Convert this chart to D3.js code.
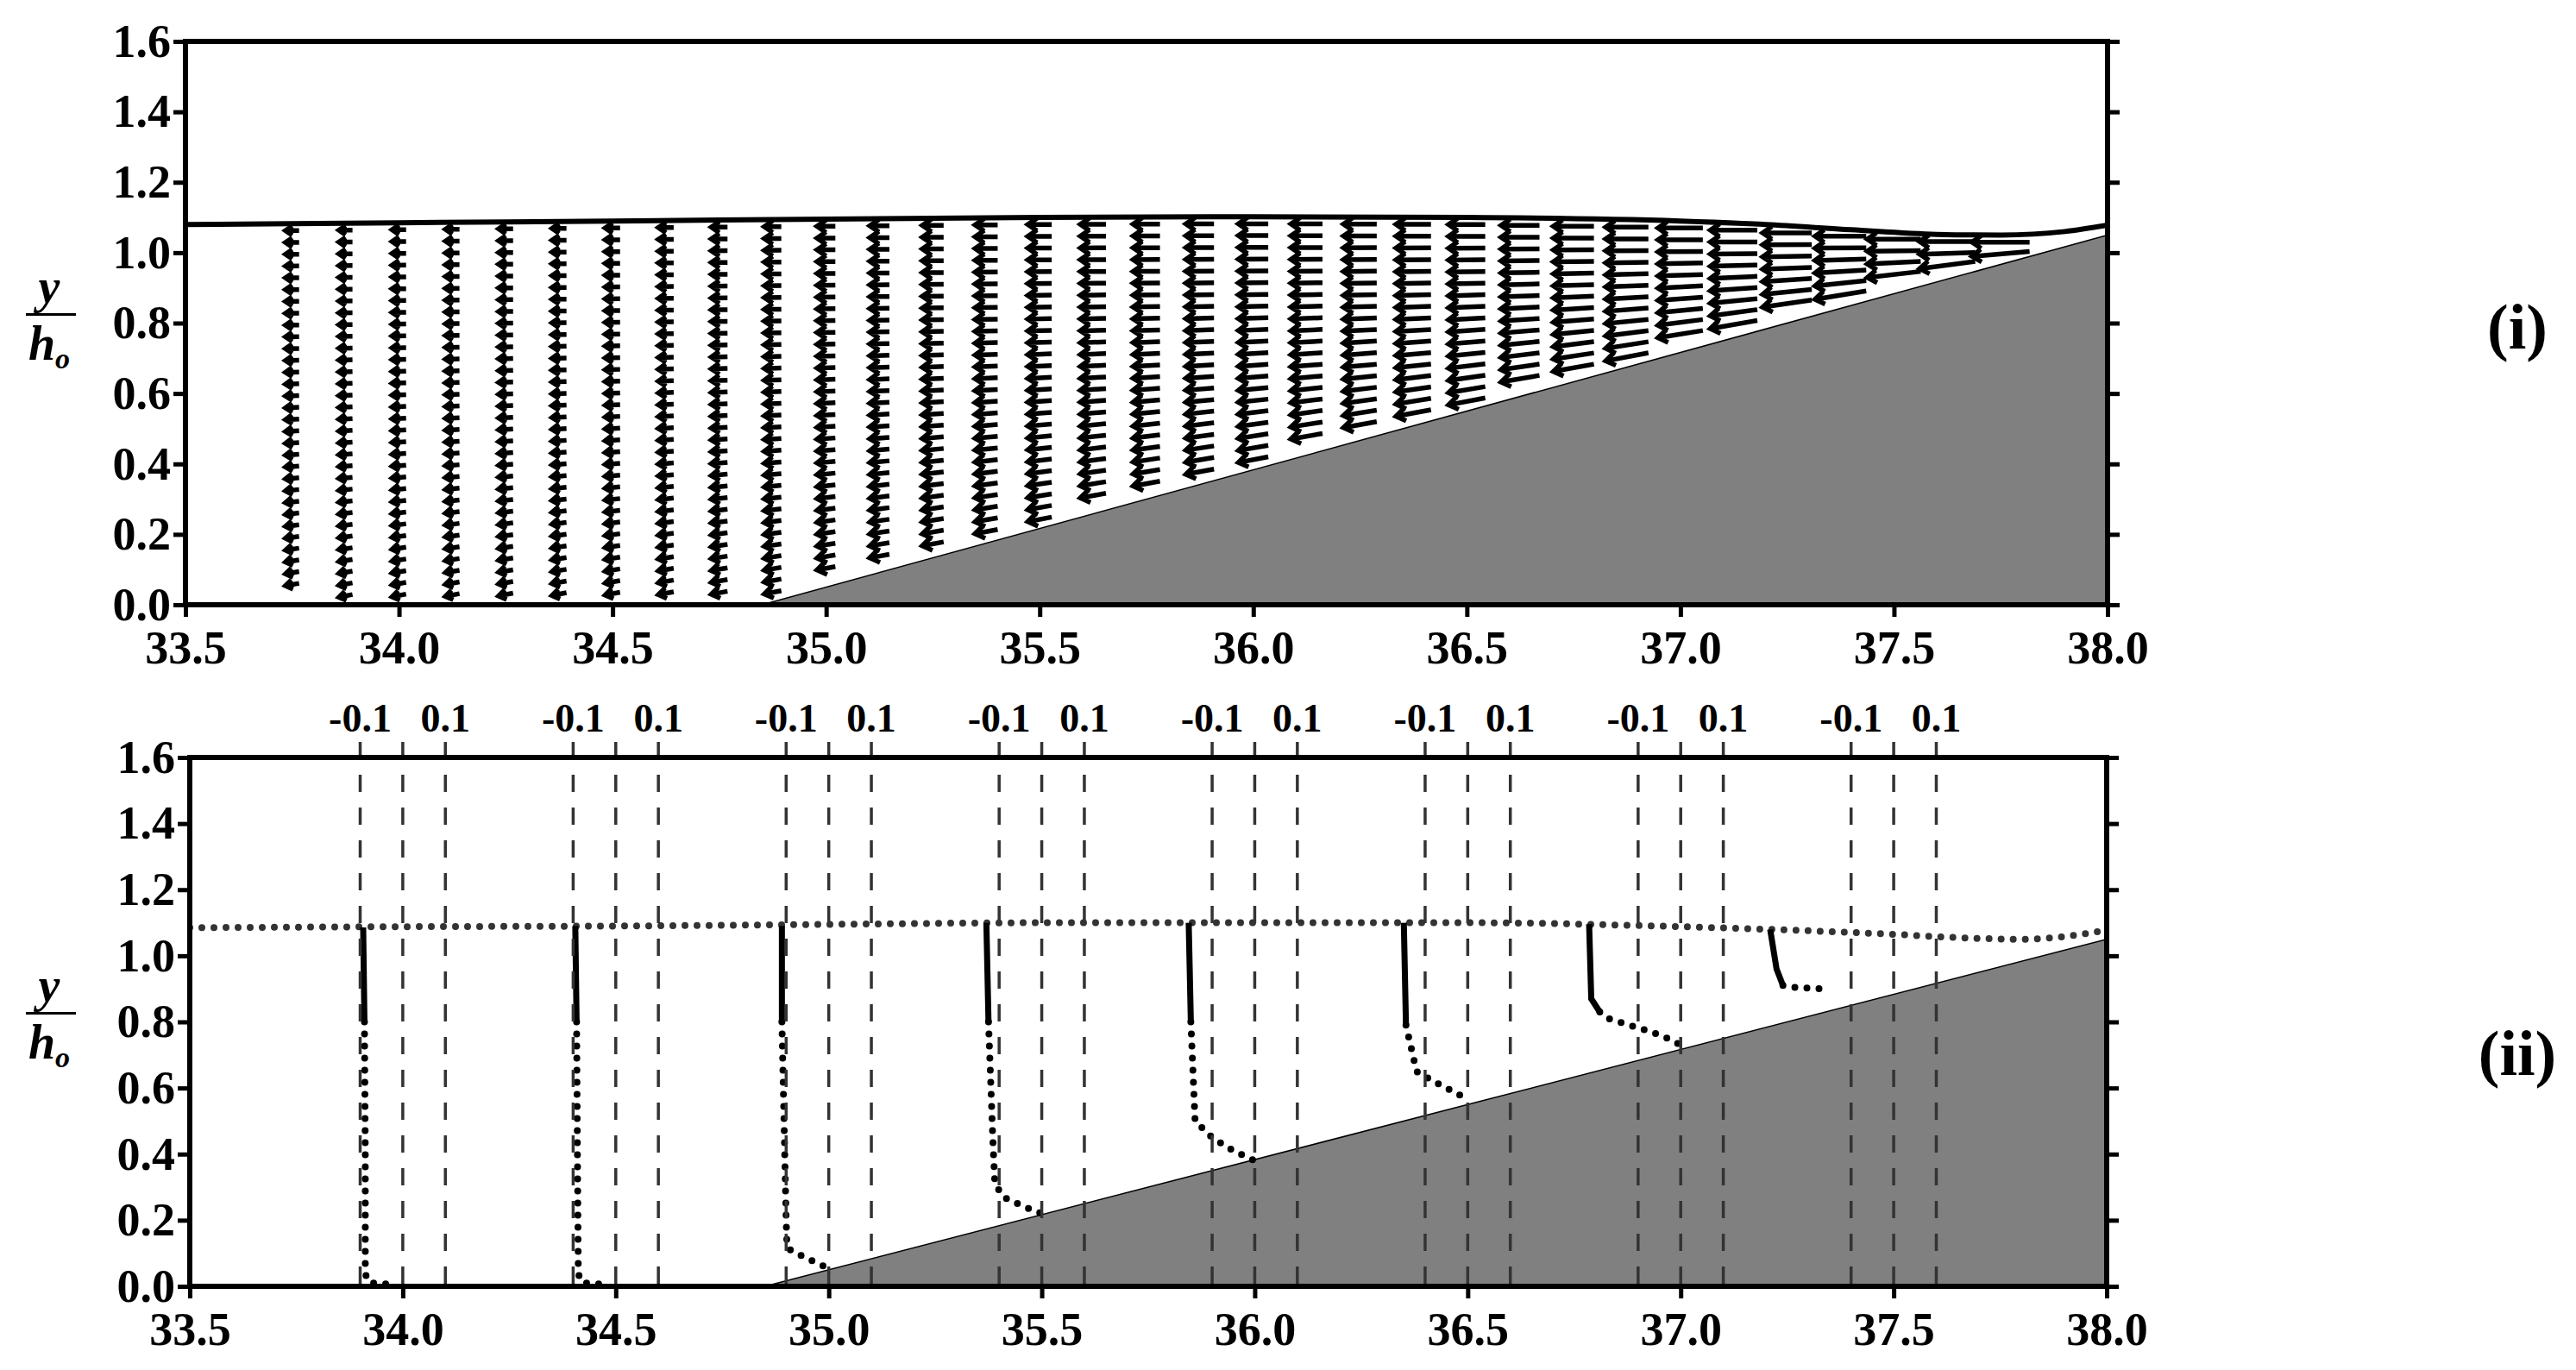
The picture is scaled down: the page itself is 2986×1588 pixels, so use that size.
<!DOCTYPE html>
<html><head><meta charset="utf-8">
<script src="https://cdn.jsdelivr.net/npm/d3@7"></script>
<style>body{margin:0;background:#fff}svg{display:block}text{font-family:"Liberation Serif","Times New Roman",serif;font-weight:bold}</style>
</head><body>
<svg id="c" width="2986" height="1588"></svg>
<script>
// ---------- data ----------
const xTicks = [33.5,34.0,34.5,35.0,35.5,36.0,36.5,37.0,37.5,38.0];
const yTicks = [0.0,0.2,0.4,0.6,0.8,1.0,1.2,1.4,1.6];
const bedX = [34.85, 38.0];
const bedY = [0.0, 1.05];
// free surface (panel i)
const surfX = [33.5,34.0,34.5,35.0,35.5,36.0,36.5,37.0,37.2,37.4,37.6,37.75,37.9,38.0];
const surfY = [1.08,1.085,1.09,1.095,1.10,1.102,1.10,1.09,1.08,1.065,1.052,1.05,1.06,1.078];
// velocity vector columns (panel i): column x and horizontal arrow length (in x units, negative = offshore)
const colX = [33.75,33.875,34.0,34.125,34.25,34.375,34.5,34.625,34.75,34.875,35.0,35.125,35.25,35.375,35.5,35.625,35.75,35.875,36.0,36.125,36.25,36.375,36.5,36.625,36.75,36.875,37.0,37.125,37.25,37.375,37.5,37.625,37.75];
const colU = [-0.032,-0.032,-0.033,-0.033,-0.034,-0.034,-0.035,-0.036,-0.038,-0.04,-0.043,-0.046,-0.05,-0.053,-0.056,-0.06,-0.063,-0.066,-0.07,-0.074,-0.078,-0.082,-0.086,-0.09,-0.095,-0.1,-0.105,-0.11,-0.115,-0.12,-0.125,-0.13,-0.135];
// panel ii profiles
const profX0 = [34.0,34.5,35.0,35.5,36.0,36.5,37.0,37.5];
const surf2X = [33.5,34.0,34.5,35.0,35.5,36.0,36.5,37.0,37.25,37.5,37.65,37.8,37.9,38.0];
const surf2Y = [1.085,1.088,1.09,1.095,1.10,1.10,1.10,1.088,1.078,1.065,1.055,1.05,1.058,1.078];
const profSolid = [
  [[33.907,1.086],[33.91,0.80]],
  [[34.405,1.09],[34.408,0.80]],
  [[34.89,1.09],[34.89,0.80]],
  [[35.37,1.10],[35.375,0.80]],
  [[35.845,1.10],[35.85,0.80]],
  [[36.35,1.10],[36.355,0.79]],
  [[36.785,1.096],[36.79,0.87],[36.81,0.83]],
  [[37.21,1.08],[37.225,0.96],[37.24,0.91]]
];
const profDots = [
  [[33.91,0.80],[33.912,0.4],[33.912,0.05],[33.915,0.02],[33.93,0.01],[33.98,0.005]],
  [[34.408,0.80],[34.41,0.4],[34.412,0.05],[34.415,0.02],[34.43,0.01],[34.48,0.005]],
  [[34.89,0.80],[34.895,0.5],[34.9,0.2],[34.902,0.12],[34.91,0.11],[34.94,0.09],[34.99,0.06]],
  [[35.375,0.80],[35.385,0.45],[35.39,0.31],[35.41,0.27],[35.46,0.24],[35.5,0.22]],
  [[35.85,0.80],[35.86,0.5],[35.9,0.45],[35.95,0.41],[36.0,0.38]],
  [[36.355,0.79],[36.38,0.65],[36.42,0.62],[36.45,0.60],[36.48,0.58],[36.5,0.56]],
  [[36.81,0.83],[36.83,0.81],[36.88,0.79],[36.93,0.77],[36.97,0.75],[37.0,0.73]],
  [[37.24,0.91],[37.26,0.905],[37.33,0.90]]
];
const refOffsets = [-0.1, 0, 0.1];
const refLabels = ["-0.1", "", "0.1"];

// ---------- drawing ----------
const svg = d3.select("#c");
const panels = [
  {x0:215, x1:2443, y0:701, y1:48, label:"(i)", ly:380},
  {x0:220, x1:2442, y0:1491, y1:878, label:"(ii)", ly:1222}
];
const bedSlope = (bedY[1]-bedY[0])/(bedX[1]-bedX[0]);
const bedAt = x => Math.max(0, bedY[0] + bedSlope*(x-bedX[0]));

panels.forEach((p, pi) => {
  const x = d3.scaleLinear().domain([33.5,38.0]).range([p.x0,p.x1]);
  const y = d3.scaleLinear().domain([0,1.6]).range([p.y0,p.y1]);
  const g = svg.append("g");
  const clipId = "clip"+pi;
  svg.append("clipPath").attr("id",clipId).append("rect")
    .attr("x",p.x0).attr("y",p.y1).attr("width",p.x1-p.x0).attr("height",p.y0-p.y1);
  const plot = g.append("g").attr("clip-path",`url(#${clipId})`);
  plot.append("path")
    .attr("d", d3.line()([[x(bedX[0]),y(bedY[0])],[x(bedX[1]),y(bedY[1])],[x(38),y(0)]]) + "Z")
    .attr("fill","#808080").attr("stroke","none");
  plot.append("line").attr("x1",x(bedX[0])).attr("y1",y(bedY[0])).attr("x2",x(bedX[1])).attr("y2",y(bedY[1]))
    .attr("stroke","#000").attr("stroke-width",1.5);

  if (pi === 0) {
    const line = d3.line().x((d,i)=>x(surfX[i])).y((d,i)=>y(surfY[i])).curve(d3.curveMonotoneX);
    plot.append("path").attr("d", line(surfX)).attr("fill","none").attr("stroke","#000").attr("stroke-width",6);
    const surfInterp = xv => {
      for (let i=1;i<surfX.length;i++) if (xv<=surfX[i]) { const t=(xv-surfX[i-1])/(surfX[i]-surfX[i-1]); return surfY[i-1]+t*(surfY[i]-surfY[i-1]); }
      return surfY[surfY.length-1];
    };
    const vg = plot.append("g").attr("stroke","#000").attr("stroke-width",5.5).attr("fill","none").attr("stroke-linecap","butt");
    colX.forEach((cx, ci) => {
      const top = surfInterp(cx) - 0.02;
      const bot = bedAt(cx) + 0.025;
      const u = colU[ci];
      for (let yy = top; yy >= bot; yy -= 0.0335) {
        const frac = (top - yy) / Math.max(0.05, top - bot);
        const w = u * bedSlope * 0.7 * frac * frac;
        const sx = x(cx - u/2), sy = y(yy - w/2);
        const ex = x(cx + u/2), ey = y(yy + w/2);
        const ang = Math.atan2(ey-sy, ex-sx);
        const hl = Math.min(13, Math.hypot(ex-sx,ey-sy)*0.6);
        const a1 = ang + Math.PI - 0.6, a2 = ang + Math.PI + 0.6;
        vg.append("path").attr("d",
          `M${sx},${sy}L${ex},${ey}M${ex+hl*Math.cos(a1)},${ey+hl*Math.sin(a1)}L${ex},${ey}L${ex+hl*Math.cos(a2)},${ey+hl*Math.sin(a2)}`);
      }
    });
  } else {
    profX0.forEach(x0 => {
      refOffsets.forEach((o,k) => {
        g.append("line").attr("x1",x(x0+o)).attr("x2",x(x0+o)).attr("y1",p.y1-18).attr("y2",p.y0)
          .attr("stroke","#333").attr("stroke-width",3.5).attr("stroke-dasharray","20,18");
        if (refLabels[k]) g.append("text").attr("x",x(x0+o)).attr("y",p.y1-30).attr("text-anchor","middle")
          .attr("font-size",46).text(refLabels[k]);
      });
    });
    const line2 = d3.line().x((d,i)=>x(surf2X[i])).y((d,i)=>y(surf2Y[i])).curve(d3.curveMonotoneX);
    plot.append("path").attr("d", line2(surf2X)).attr("fill","none").attr("stroke","#333")
      .attr("stroke-width",8).attr("stroke-linecap","round").attr("stroke-dasharray","0,14");
    const pl = d3.line().x(d=>x(d[0])).y(d=>y(d[1]));
    profSolid.forEach(s => plot.append("path").attr("d",pl(s)).attr("fill","none").attr("stroke","#000").attr("stroke-width",7));
    profDots.forEach(s => plot.append("path").attr("d",pl(s)).attr("fill","none").attr("stroke","#000")
      .attr("stroke-width",8).attr("stroke-linecap","round").attr("stroke-dasharray","0,14"));
  }

  const ax = g.append("g");
  ax.append("g").attr("transform",`translate(0,${p.y0})`).call(d3.axisBottom(x).tickValues(xTicks).tickFormat(d3.format(".1f")).tickSize(14).tickPadding(16));
  ax.append("g").attr("transform",`translate(${p.x0},0)`).call(d3.axisLeft(y).tickValues(yTicks).tickFormat(d3.format(".1f")).tickSize(14).tickPadding(3));
  ax.append("g").attr("transform",`translate(${p.x1},0)`).call(d3.axisRight(y).tickValues(yTicks).tickFormat("").tickSize(14));
  ax.selectAll(".domain").remove();
  ax.selectAll(".tick line").attr("stroke","#000").attr("stroke-width",5);
  ax.selectAll(".tick text").attr("font-size",54).attr("fill","#000")
    .style("font-family","'Liberation Serif',serif").style("font-weight","bold");
  g.append("rect").attr("x",p.x0).attr("y",p.y1).attr("width",p.x1-p.x0).attr("height",p.y0-p.y1)
    .attr("fill","none").attr("stroke","#000").attr("stroke-width",6);

  const cy = (p.y0+p.y1)/2 - 10;
  g.append("text").attr("x",57).attr("y",cy-14).attr("text-anchor","middle").attr("font-size",56).attr("font-style","italic").text("y");
  g.append("line").attr("x1",30).attr("x2",88).attr("y1",cy).attr("y2",cy).attr("stroke","#000").attr("stroke-width",3);
  const t = g.append("text").attr("x",57).attr("y",cy+52).attr("text-anchor","middle").attr("font-size",56).attr("font-style","italic");
  t.append("tspan").text("h");
  t.append("tspan").attr("font-size",34).attr("dy",10).text("o");
  g.append("text").attr("x",2918).attr("y",p.ly+24).attr("text-anchor","middle").attr("font-size",74).text(p.label);
});
</script>
</body></html>
